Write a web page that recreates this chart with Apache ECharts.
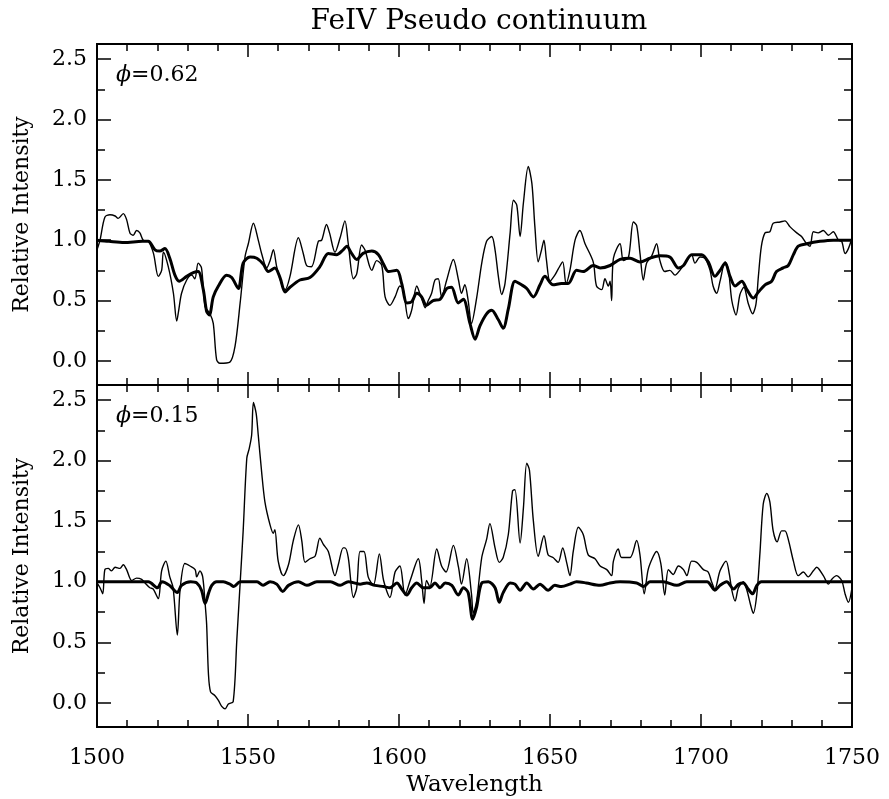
<!DOCTYPE html>
<html>
<head>
<meta charset="utf-8">
<title>FeIV Pseudo continuum</title>
<script src="https://cdn.jsdelivr.net/npm/echarts@6/dist/echarts.min.js"></script>
<style>
  html, body { margin: 0; padding: 0; background: #fff; }
  #chart { width: 889px; height: 799px; }
</style>
</head>
<body>
<div id="chart"></div>
<script>
// phase 0.62 : observed spectrum (thin) and FeIV model (thick)
const topObs = [[1500,0.92],[1501,1.0],[1502.6,1.19],[1504.3,1.21],[1506,1.2],[1507,1.18],[1508.7,1.22],[1509.8,1.17],[1510.9,1.06],[1512,1.04],[1513.1,1.08],[1514.2,1.06],[1515.3,1.0],[1517,0.99],[1518.7,0.89],[1520.3,0.70],[1521.4,0.75],[1522,0.90],[1523.6,0.78],[1525.3,0.56],[1526.4,0.33],[1527,0.41],[1528,0.56],[1529.7,0.67],[1531.4,0.71],[1532.4,0.68],[1533.5,0.81],[1534.6,0.77],[1535.8,0.45],[1537.4,0.39],[1538.5,0.31],[1539.6,0.01],[1540.7,-0.02],[1544,-0.01],[1545.7,0.12],[1547.4,0.48],[1549,0.86],[1550.1,0.97],[1551.8,1.14],[1553.4,1.0],[1554.5,0.89],[1556.2,0.77],[1557.3,0.83],[1558.4,0.92],[1559.5,0.78],[1561.1,0.64],[1562.3,0.59],[1563.9,0.70],[1566.7,1.02],[1568.3,0.89],[1569.4,0.79],[1571,0.78],[1573.3,0.99],[1574.4,1.0],[1576,1.13],[1577,1.06],[1578.8,0.90],[1580.5,1.02],[1582.1,1.16],[1583.2,0.97],[1584.9,0.68],[1586,0.72],[1587.6,0.96],[1588.7,0.92],[1591,0.75],[1592.6,0.83],[1594.3,0.79],[1595.4,0.53],[1597,0.46],[1598.7,0.53],[1600.3,0.62],[1601.4,0.59],[1603.1,0.35],[1604.2,0.42],[1605.9,0.62],[1607,0.55],[1608,0.48],[1608.6,0.44],[1609.7,0.50],[1610.8,0.56],[1611.9,0.67],[1613,0.68],[1614.1,0.53],[1615.8,0.67],[1618,0.84],[1619.7,0.67],[1620.7,0.56],[1621.8,0.63],[1622.9,0.50],[1624,0.31],[1625.7,0.52],[1627.4,0.81],[1629,0.99],[1630.7,1.03],[1631.8,0.92],[1632.9,0.70],[1634,0.55],[1635.1,0.64],[1636.8,1.06],[1637.9,1.33],[1639,1.29],[1640.1,1.03],[1641.2,1.31],[1642.8,1.61],[1644,1.47],[1645,1.11],[1646.1,0.82],[1647.2,0.92],[1648,1.0],[1648.8,0.84],[1650,0.66],[1651.6,0.71],[1652.7,0.76],[1654.2,0.82],[1655.3,0.64],[1656.6,0.75],[1658.3,1.0],[1659.9,1.08],[1661.6,0.97],[1664.3,0.82],[1665.4,0.62],[1667.1,0.59],[1668.2,0.68],[1669.3,0.62],[1669.9,0.66],[1670.4,0.50],[1671,0.85],[1673.2,0.97],[1674.3,0.83],[1676,0.86],[1677.6,1.15],[1678.7,1.12],[1679.8,0.89],[1680.9,0.67],[1682,0.81],[1683.7,0.87],[1685.3,0.97],[1686.4,0.83],[1688,0.74],[1689.7,0.75],[1691.4,0.71],[1693,0.75],[1695.3,0.83],[1696.9,0.88],[1698,0.81],[1699.7,0.86],[1701.3,0.85],[1703,0.75],[1704,0.62],[1705.2,0.56],[1706.3,0.66],[1708,0.82],[1709.1,0.75],[1710.2,0.50],[1711.6,0.38],[1712.9,0.55],[1714.2,0.61],[1715.6,0.48],[1717.1,0.39],[1718.2,0.47],[1719,0.70],[1720,0.95],[1721.2,1.06],[1722.8,1.07],[1723.9,1.14],[1726.2,1.15],[1727.8,1.16],[1729.5,1.11],[1731.7,1.06],[1733.3,1.03],[1735,0.97],[1736.1,0.95],[1737.2,1.07],[1738.8,1.06],[1740.5,1.08],[1742.2,1.04],[1743.8,1.07],[1745.5,1.0],[1746.6,0.99],[1747.7,0.89],[1748.8,0.93],[1750,1.02]];

const topModel = [[1500,1.0],[1504,0.99],[1509,0.98],[1515,0.99],[1517,0.99],[1519.2,0.92],[1520.8,0.91],[1522.5,0.93],[1524.1,0.85],[1525.8,0.71],[1527.2,0.66],[1529.7,0.70],[1531.9,0.73],[1533.5,0.74],[1535.2,0.59],[1536.3,0.41],[1537.2,0.38],[1538.5,0.53],[1540.2,0.62],[1542.9,0.71],[1544.6,0.69],[1546.8,0.60],[1548.4,0.81],[1550.7,0.86],[1552.9,0.85],[1555.1,0.80],[1556.7,0.74],[1558.9,0.77],[1560.6,0.69],[1562.3,0.57],[1563.9,0.61],[1567.2,0.67],[1570.5,0.69],[1573.8,0.78],[1576.6,0.89],[1579.3,0.88],[1581.5,0.92],[1582.7,0.95],[1584.3,0.89],[1586,0.84],[1588.1,0.89],[1591,0.91],[1593.2,0.88],[1594.9,0.80],[1596.5,0.74],[1599.3,0.75],[1600.9,0.64],[1602.6,0.48],[1604.2,0.49],[1605.9,0.56],[1607.5,0.53],[1609.1,0.46],[1611.3,0.50],[1613.6,0.51],[1615.8,0.60],[1617.4,0.61],[1619.6,0.48],[1621.3,0.51],[1623.5,0.31],[1625.2,0.18],[1626.8,0.29],[1629,0.39],[1630.7,0.42],[1632.9,0.34],[1634.5,0.27],[1636.2,0.43],[1638.4,0.66],[1640.6,0.63],[1642.3,0.60],[1644.5,0.53],[1646.7,0.63],[1648.3,0.70],[1651,0.63],[1653.8,0.64],[1656,0.64],[1658.8,0.75],[1661,0.74],[1664.3,0.79],[1666.6,0.77],[1669.9,0.79],[1673.2,0.84],[1676.5,0.85],[1679.8,0.82],[1683.1,0.85],[1686.4,0.87],[1689.7,0.86],[1692.5,0.77],[1694.2,0.79],[1696.9,0.88],[1700.2,0.88],[1702.4,0.82],[1704.6,0.70],[1706.3,0.75],[1708,0.81],[1709.6,0.70],[1711.3,0.62],[1713.5,0.66],[1715.2,0.59],[1717.3,0.52],[1719,0.57],[1721.2,0.63],[1723.4,0.66],[1725,0.74],[1727.2,0.77],[1728.9,0.79],[1730.6,0.88],[1732.2,0.95],[1735,0.97],[1739.4,0.99],[1743.8,1.0],[1750,1.0]];

// phase 0.15
const botObs = [[1500,0.99],[1501,0.95],[1501.9,0.90],[1502.6,1.10],[1503.7,1.11],[1504.8,1.09],[1506,1.12],[1507.6,1.11],[1508.7,1.14],[1509.8,1.10],[1511.5,1.01],[1513.1,1.03],[1514.8,1.02],[1515.9,0.99],[1517.5,0.95],[1518.6,0.94],[1520.3,0.86],[1521.4,1.09],[1522.8,1.17],[1524.1,1.04],[1525.2,0.95],[1526.6,0.56],[1527.5,0.93],[1529.1,1.15],[1530.8,1.13],[1532.5,1.10],[1533,1.04],[1534.1,1.09],[1535,1.04],[1535.8,0.82],[1536.3,0.65],[1536.9,0.24],[1537.6,0.09],[1539,0.06],[1540.2,0.02],[1541.3,-0.03],[1542.4,-0.05],[1543.5,-0.01],[1545.1,0.01],[1546.3,0.52],[1547.4,0.99],[1548.4,1.42],[1549.6,2.02],[1550.4,2.10],[1551.2,2.21],[1551.8,2.48],[1552.7,2.39],[1553.4,2.21],[1554.5,1.91],[1555.6,1.66],[1557.3,1.47],[1558.4,1.40],[1558.9,1.43],[1560,1.17],[1561.7,1.05],[1563.4,1.14],[1565,1.34],[1566.7,1.47],[1567.8,1.34],[1568.9,1.16],[1570.5,1.19],[1572.2,1.21],[1573.8,1.36],[1574.9,1.31],[1576.6,1.25],[1578.8,1.05],[1579.9,1.14],[1581.5,1.28],[1582.1,1.28],[1583.2,1.20],[1584.9,0.87],[1586,0.95],[1587.1,1.25],[1588.4,1.25],[1589.8,1.04],[1591.5,0.97],[1593.5,1.23],[1594.9,1.01],[1597,0.87],[1598.7,1.08],[1600.3,1.13],[1602,0.89],[1603.7,1.01],[1606.4,1.19],[1607.5,1.01],[1608.3,0.82],[1609.1,1.01],[1610.2,0.96],[1612.5,1.27],[1614.1,1.13],[1615.6,1.08],[1618,1.30],[1619.7,1.12],[1620.7,0.98],[1622.4,1.19],[1624,0.90],[1624.6,0.74],[1625.7,0.84],[1627.4,1.20],[1629,1.35],[1630.1,1.48],[1631.8,1.28],[1633.2,1.16],[1634.5,1.20],[1636.2,1.39],[1637.6,1.75],[1638.4,1.76],[1640.1,1.32],[1641.2,1.61],[1642.3,1.98],[1643.2,1.92],[1644.5,1.50],[1646.1,1.21],[1648,1.38],[1649.4,1.22],[1651,1.20],[1652.7,1.16],[1654.2,1.28],[1655.5,1.16],[1656.6,1.05],[1657.7,1.25],[1659.4,1.45],[1661,1.39],[1662.7,1.22],[1664.9,1.19],[1666.6,1.13],[1668.8,1.10],[1670.4,1.05],[1671,1.17],[1672.6,1.27],[1673.7,1.20],[1676.5,1.20],[1678.7,1.34],[1679.8,1.22],[1681.2,0.90],[1682.5,1.10],[1684.2,1.21],[1685.3,1.25],[1686.7,1.15],[1688,0.89],[1689.2,1.10],[1690.8,1.06],[1692.5,1.13],[1694.2,1.10],[1695.3,1.05],[1696.9,1.17],[1698.6,1.16],[1700.8,1.10],[1702.4,1.08],[1703.5,1.00],[1704.6,0.94],[1706.3,1.09],[1708.3,1.17],[1709.4,1.06],[1710.2,0.93],[1711.3,0.84],[1712.4,0.95],[1714,1.00],[1715.2,0.93],[1716.3,0.82],[1717.3,0.74],[1718.5,0.90],[1719.5,1.23],[1720.6,1.64],[1721.8,1.73],[1722.8,1.66],[1723.9,1.42],[1725.2,1.33],[1726.7,1.42],[1727.8,1.42],[1728.9,1.35],[1730.6,1.17],[1732.2,1.05],[1733.9,1.08],[1735.5,1.04],[1737.2,1.09],[1738.3,1.12],[1740.5,1.05],[1742.2,0.98],[1743.3,1.02],[1744.9,1.05],[1746.6,1.01],[1747.7,0.90],[1748.8,0.83],[1750,0.95]];

const botModel = [[1500,1.0],[1517,1.0],[1520,0.95],[1521.5,1.0],[1524,0.97],[1526.6,0.91],[1528,0.97],[1531,1.0],[1533,0.99],[1534.6,0.93],[1535.8,0.82],[1537,0.91],[1538,0.97],[1539.6,1.0],[1541.8,1.0],[1544,0.98],[1545.3,0.96],[1547.4,1.0],[1553,1.0],[1555,0.97],[1557.3,1.0],[1559.5,0.98],[1561.5,0.92],[1563.4,0.97],[1566.7,1.0],[1569.5,0.97],[1572.8,1.0],[1577.3,1.0],[1580.5,0.97],[1583.2,1.0],[1587.1,0.98],[1589.3,0.99],[1592,0.97],[1594.9,0.96],[1597,0.95],[1599.3,0.99],[1600.9,0.94],[1602.6,0.89],[1604.2,0.95],[1605.9,0.99],[1608,0.95],[1610.2,0.95],[1611.9,0.99],[1613.6,0.95],[1615.3,0.99],[1617.5,0.97],[1619.6,0.89],[1621.3,0.95],[1622.9,0.91],[1624.4,0.69],[1625.7,0.79],[1627.4,0.99],[1629.6,1.0],[1631.8,0.95],[1633.2,0.83],[1634.5,0.91],[1636.8,0.99],[1638.4,0.98],[1640.1,0.93],[1642.3,0.99],[1644.5,0.94],[1646.7,0.98],[1649.4,0.93],[1651.6,0.97],[1653.8,0.96],[1656.6,0.98],[1658.8,1.0],[1662,0.99],[1666.6,0.97],[1669.9,0.99],[1673.2,1.0],[1678.7,0.99],[1681,0.96],[1683.1,1.0],[1687.5,1.0],[1692,0.97],[1695.3,1.0],[1702,1.0],[1704.6,0.93],[1706.3,0.97],[1708.5,1.0],[1710.8,0.94],[1712.4,0.98],[1714,0.99],[1715.6,0.94],[1717.1,0.90],[1718.5,0.97],[1720,1.0],[1750,1.0]];

const yMajor = [0, 0.5, 1.0, 1.5, 2.0, 2.5];
const yMinor = [0.25, 0.75, 1.25, 1.75, 2.25];
const phases = ['0.62', '0.15'];

const FONT = 'DejaVu Serif';
const Y_MIN = -0.2;
const Y_MAX = 2.625;

var chart = echarts.init(document.getElementById('chart'), null, { renderer: 'canvas' });

function xAx(grid, pos, labels) {
    return {
        type: 'value', gridIndex: grid, position: pos,
        min: 1500, max: 1750, interval: 50,
        axisLine: { show: true, onZero: false, lineStyle: { color: '#000', width: 2 } },
        axisTick: { show: true, inside: true, length: 13, lineStyle: { color: '#000', width: 1.5 } },
        minorTick: { show: true, splitNumber: 5, length: 7, lineStyle: { color: '#000', width: 1.5 } },
        axisLabel: {
            show: labels, color: '#000', fontFamily: FONT, fontSize: 22, margin: 20,
            formatter: (v) => String(v)
        },
        splitLine: { show: false },
        name: labels ? 'Wavelength' : '',
        nameLocation: 'middle', nameGap: 47,
        nameTextStyle: { color: '#000', fontFamily: FONT, fontSize: 23 }
    }
}

function yAx(grid, pos, ticks, len, labels) {
    return {
        type: 'value', gridIndex: grid, position: pos,
        min: Y_MIN, max: Y_MAX,
        axisLine: { show: true, onZero: false, lineStyle: { color: '#000', width: 2 } },
        axisTick: { show: true, inside: true, length: len, customValues: ticks, lineStyle: { color: '#000', width: 1.5 } },
        axisLabel: {
            show: labels, customValues: yMajor, color: '#000', fontFamily: FONT, fontSize: 22, margin: 10,
            formatter: (v) => v.toFixed(1)
        },
        splitLine: { show: false },
        name: labels ? 'Relative Intensity' : '',
        nameLocation: 'middle', nameGap: 64, nameRotate: 90,
        nameTextStyle: { color: '#000', fontFamily: FONT, fontSize: 22 }
    }
}

var xAxes = [], yAxes = []
for (var g = 0; g < 2; g++) {
    xAxes.push(xAx(g, 'bottom', g === 1))
    xAxes.push(xAx(g, 'top', false))
    yAxes.push(yAx(g, 'left', yMajor, 14, true))
    yAxes.push(yAx(g, 'left', yMinor, 8, false))
    yAxes.push(yAx(g, 'right', yMajor, 14, false))
    yAxes.push(yAx(g, 'right', yMinor, 8, false))
}

function line(data, g, width) {
    return {
        type: 'line', data: data, xAxisIndex: g * 2, yAxisIndex: g * 4,
        showSymbol: false, symbol: 'none', animation: false,
        smooth: 0.3,
        lineStyle: { color: '#000', width: width }
    }
}

var option = {
    backgroundColor: '#fff',
    animation: false,
    title: {
        text: 'FeIV Pseudo continuum',
        left: 474, top: 3, textAlign: 'center',
        textStyle: { color: '#000', fontFamily: FONT, fontWeight: 'normal', fontSize: 28 }
    },
    grid: [
        { left: 97, right: 37, top: 44, height: 341 },
        { left: 97, right: 37, top: 385, height: 342 }
    ],
    xAxis: xAxes,
    yAxis: yAxes,
    // phase labels, italic phi
    graphic: phases.map((p, i) => ({
        type: 'text', left: 116, top: i === 0 ? 64 : 405, silent: true,
        style: {
            text: '{i|\u03d5}=' + p,
            fill: '#000', font: '22px "DejaVu Serif"',
            rich: { i: { fontStyle: 'italic', fontFamily: FONT, fontSize: 22, fill: '#000' } }
        }
    })),
    series: [
        line(topModel, 0, 3),
        line(topObs, 0, 1.4),
        line(botModel, 1, 3),
        line(botObs, 1, 1.4)
    ]
}

chart.setOption(option)
</script>
</body>
</html>
